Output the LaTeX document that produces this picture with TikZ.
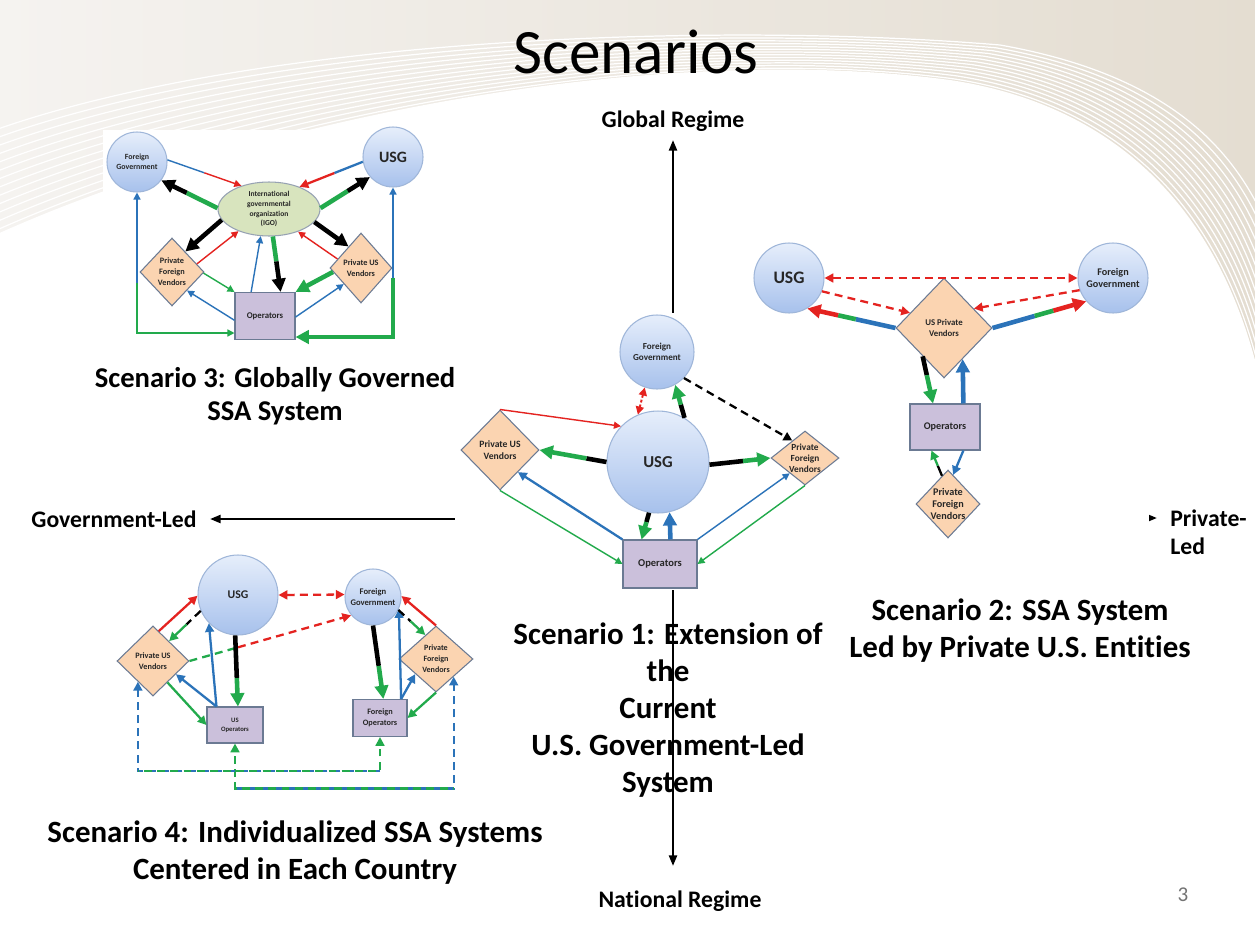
\documentclass[tikz,border=0pt]{standalone}
\usepackage{fontspec}
\setmainfont{Carlito}[Ligatures=NoCommon]
\usetikzlibrary{arrows.meta,positioning,shapes.geometric,calc}

\definecolor{ared}{HTML}{E42320}
\definecolor{agreen}{HTML}{22AA4C}
\definecolor{ablue}{HTML}{2B73B9}
\definecolor{circA}{HTML}{E6EEFB}
\definecolor{circB}{HTML}{A7C1EC}
\definecolor{circline}{HTML}{9FB6D9}
\definecolor{peach}{HTML}{FBD4B1}
\definecolor{lilac}{HTML}{CBC0DB}
\definecolor{igogreen}{HTML}{D8E4BE}
\definecolor{edge}{HTML}{6B7A93}
\definecolor{bgL}{HTML}{F5F3F0}
\definecolor{bgR}{HTML}{E4DDD1}

\tikzset{
	x=0.02cm, y=-0.02cm,
	>={Triangle[length=2.4pt 2, width=2.4pt 2]},
	gov/.style={circle, draw=circline, line width=0.6pt, top color=circA, bottom color=circB, inner sep=0pt},
	vend/.style={diamond, draw=edge, line width=0.6pt, fill=peach, inner sep=0pt},
	ops/.style={rectangle, draw=edge, line width=0.6pt, fill=lilac, inner sep=0pt},
	org/.style={ellipse, draw=edge!70, line width=0.6pt, fill=igogreen, inner sep=0pt},
	lab/.style 2 args={font=\fontsize{#1}{#2}\selectfont\bfseries, align=center, text=black!85, inner sep=0pt},
	slim/.style={line width=0.8pt},
	medw/.style={line width=1.3pt},
	fat/.style={line width=2.6pt},
	dsh/.style={dash pattern=on 4.5pt off 3pt},
	caption/.style={font=\fontsize{17.6}{21}\selectfont\bfseries, align=center, inner sep=0pt},
	axlab/.style={font=\fontsize{13.5}{16}\selectfont\bfseries, inner sep=0pt},
	axis/.style={line width=1.3pt, -{Triangle[length=6pt,width=4.5pt]}},
}

% arrow in two colours: first style, second style, from, to, split
\newcommand\twotone[5]{%
	\path (#3) -- (#4) coordinate[pos=#5] (split);
	\draw[#1] (#3) -- (split);
	\draw[#2,->] (split) -- (#4);}
% blue-green-red arrow
\newcommand\threetone[2]{%
	\path (#1) -- (#2) coordinate[pos=0.45] (sa) coordinate[pos=0.65] (sb);
	\draw[fat,ablue] (#1) -- (sa);
	\draw[fat,agreen] (sa) -- (sb);
	\draw[fat,ared,->] (sb) -- (#2);}

\begin{document}
\begin{tikzpicture}
	\useasboundingbox (0,0) rectangle (1255,930);

	% slide background
	\fill[left color=bgL, right color=bgR] (0,0) rectangle (1255,400);
	\fill[white] (-5,235) .. controls (250,120) and (650,40) .. (950,80) .. controls (1150,110) and (1230,250) .. (1260,380) -- (1260,935) -- (-5,935) -- cycle;
	\foreach \t in {0,0.08,...,1.0}
		\draw[white, line width=0.7pt] ($(-5,130)!\t!(-5,235)$) .. controls ($(250,40)!\t!(250,120)$) and ($(700,20)!\t!(650,40)$) .. ($(1000,45)!\t!(950,80)$) .. controls ($(1170,75)!\t!(1150,110)$) and ($(1230,150)!\t!(1230,250)$) .. ($(1260,210)!\t!(1260,380)$);
	\fill[white] (103,130) rectangle (436,345);

	\node[font=\fontsize{36}{40}\selectfont] (title) at (636,52) {Scenarios};
	\node[font=\fontsize{12}{14}\selectfont, text=black!55] (pnum) at (1183,895) {3};

	% captions
	\node[caption, font=\fontsize{16.3}{19}\selectfont\bfseries] (cap3) at (275,396) {Scenario 3: Globally Governed\\SSA System};
	\node[caption] (cap1) at (668,710) {Scenario 1: Extension of\\the\\Current\\U.S. Government-Led\\System};
	\node[caption] (cap2) at (1020,631) {Scenario 2: SSA System\\Led by Private U.S. Entities};
	\node[caption] (cap4) at (295,853) {Scenario 4: Individualized SSA Systems\\Centered in Each Country};

	% axes
	\coordinate (orig) at (673,519);
	\coordinate (ntip) at (673,140);
	\coordinate (stip) at (673,866);
	\coordinate (wtip) at (210,519);
	\coordinate (etip) at (1157,518);
	\draw[axis] (orig) -- (ntip);
	\draw[axis] (orig) -- (stip);
	\draw[axis] (orig) -- (wtip);
	\draw[axis] (orig) -- (etip);
	\node[axlab, above=0.17cm of ntip] (glob) {Global Regime};
	\node[axlab, below=0.5cm of stip, xshift=0.14cm] (natl) {National Regime};
	\node[axlab, left=0.26cm of wtip] (govled) {Government-Led};
	\node[axlab, right=0.26cm of etip, yshift=-0.28cm, align=left] (privled) {Private-\\Led};

	\fill[white] (455,313) rectangle (845,590);
	\fill[white] (845,235) rectangle (1149,542);

	% Scenario 3
	\node[gov, minimum size=1.2cm, label={[lab={4.5}{5.6}]center:Foreign\\Government}] (fg3) at (137,162) {};
	\node[gov, minimum size=1.2cm, label={[lab={9}{10}]center:USG}] (usg3) at (393,157) {};
	\node[org, minimum width=2.04cm, minimum height=1.08cm, label={[lab={4.3}{5.6}]center:International\\governmental\\organization\\(IGO)}] (igo3) at (269,209) {};
	\node[vend, minimum width=1.28cm, minimum height=1.36cm, label={[lab={4.7}{6.2}]center:Private\\Foreign\\Vendors}] (pfv3) at (172,272) {};
	\node[vend, minimum width=1.24cm, minimum height=1.4cm, label={[lab={4.7}{6.2}]center:Private US\\Vendors}] (pusv3) at (361,268) {};
	\node[ops, minimum width=1.2cm, minimum height=0.94cm, label={[lab={5}{6}]center:Operators}] (op3) at (265,316) {};

	\twotone{slim,ablue}{slim,ared}{fg3.4}{igo3.140}{0.5}
	\twotone{medw,ablue}{medw,ared}{usg3.189}{igo3.36}{0.45}
	\twotone{fat,agreen}{fat,black}{igo3.179}{fg3.323}{0.55}
	\twotone{fat,agreen}{fat,black}{igo3.1}{usg3.221}{0.55}
	\draw[fat,->] (igo3.193) -- (pfv3.57);
	\draw[slim,ared,->] (pfv3.18) -- (igo3.216);
	\draw[fat,->] (igo3.344) -- (pusv3.120);
	\draw[slim,ared,->] (pusv3.159) -- (igo3.322);
	\draw[slim,ablue,->] (op3.120) -- (igo3.253);
	\twotone{fat,agreen}{fat,black}{igo3.278}{op3.57}{0.45}
	\draw[slim,agreen,->] (pfv3.358) -- (op3.north west);
	\draw[slim,ablue,->] (op3.188) -- (pfv3.309);
	\draw[fat,agreen,->] (pusv3.188) -- (op3.north east);
	\draw[slim,ablue,->] (op3.358) -- (pusv3.223);
	\coordinate (k3l) at ($(fg3.south)+(0,90)$);
	\coordinate (k3r) at ($(usg3.south)+(0,90)$);
	\draw[slim,ablue,->] (k3l) -- (fg3.south);
	\draw[slim,agreen,->] (k3l) |- ($(op3.west)+(0,17)$);
	\draw[slim,ablue,->] (k3r) -- (usg3.south);
	\draw[fat,agreen,->] (k3r) |- ($(op3.east)+(0,21)$);

	% Scenario 1
	\node[gov, minimum size=1.48cm, label={[lab={5.2}{6.2}]center:Foreign\\Government}] (fg1) at (657,352) {};
	\node[gov, minimum size=2.04cm, label={[lab={9.5}{11}]center:USG}] (usg1) at (658,462) {};
	\node[vend, minimum width=1.56cm, minimum height=1.6cm, label={[lab={5.5}{6.8}]center:Private US\\Vendors}] (pusv1) at (500,450) {};
	\node[vend, minimum width=1.36cm, minimum height=1.08cm, label={[lab={5.3}{6.3}]center:Private\\Foreign\\Vendors}] (pfv1) at (805,458) {};
	\node[ops, minimum width=1.48cm, minimum height=0.96cm, label={[lab={6}{7}]center:Operators}] (op1) at (660,564) {};

	\draw[line width=1.1pt,ared,dash pattern=on 1.6pt off 1.2pt,<->] (usg1.113) -- (fg1.251);
	\twotone{fat,black}{fat,agreen}{usg1.59}{fg1.299}{0.4}
	\draw[medw,dsh,->] (fg1.316) -- (pfv1.126);
	\draw[slim,ared,->] (pusv1.north) -- (usg1.136);
	\twotone{fat,black}{fat,agreen}{usg1.west}{pusv1.east}{0.3}
	\twotone{fat,black}{fat,agreen}{usg1.357}{pfv1.west}{0.55}
	\draw[slim,agreen,->] (pusv1.south) -- (op1.west);
	\draw[medw,ablue,->] (op1.north west) -- (pusv1.309);
	\draw[slim,ablue,->] (op1.north east) -- (pfv1.225);
	\draw[slim,agreen,->] (pfv1.south) -- (op1.east);
	\twotone{fat,black}{fat,agreen}{usg1.260}{op1.127}{0.35}
	\draw[fat,ablue,->] (op1.67) -- (usg1.283);

	% Scenario 2
	\node[gov, minimum size=1.4cm, label={[lab={10}{11}]center:USG}] (usg2) at (789,278) {};
	\node[gov, minimum size=1.4cm, label={[lab={5.8}{7}]center:Foreign\\Government}] (fg2) at (1113,278) {};
	\node[vend, minimum width=1.92cm, minimum height=2cm, label={[lab={5}{6.5}]center:US Private\\Vendors}] (uspv2) at (944,328) {};
	\node[ops, minimum width=1.4cm, minimum height=0.92cm, label={[lab={5.8}{7}]center:Operators}] (op2) at (945,427) {};
	\node[vend, minimum width=1.28cm, minimum height=1.36cm, label={[lab={5.8}{7}]center:Private\\Foreign\\Vendors}] (pfv2) at (948,504) {};

	\draw[medw,ared,dsh,<->] (usg2.east) -- (fg2.west);
	\draw[medw,ared,dsh,->] (usg2.338) -- (uspv2.156);
	\draw[medw,ared,dsh,->] (fg2.200) -- (uspv2.33);
	\threetone{uspv2.west}{usg2.301}
	\threetone{uspv2.east}{fg2.221}
	\twotone{fat,black}{fat,agreen}{uspv2.233}{op2.117}{0.4}
	\draw[fat,ablue,->] (op2.52) -- (uspv2.301);
	\twotone{medw,black}{medw,agreen}{pfv2.102}{op2.240}{0.4}
	\draw[medw,ablue,->] (op2.308) -- (pfv2.80);

	% Scenario 4
	\node[gov, minimum size=1.6cm, label={[lab={6.7}{8}]center:USG}] (usg4) at (238,595) {};
	\node[gov, minimum size=1.12cm, label={[lab={4.9}{5.8}]center:Foreign\\Government}] (fg4) at (373,597) {};
	\node[vend, minimum width=1.44cm, minimum height=1.4cm, label={[lab={4.7}{6}]center:Private US\\Vendors}] (pusv4) at (153,661) {};
	\node[vend, minimum width=1.48cm, minimum height=1.32cm, label={[lab={4.6}{6.2}]center:Private\\Foreign\\Vendors}] (pfv4) at (436,659) {};
	\node[ops, minimum width=1.12cm, minimum height=0.72cm, label={[lab={3.8}{5}]center:US\\Operators}] (uop4) at (235,725) {};
	\node[ops, minimum width=1.08cm, minimum height=0.74cm, label={[lab={4.7}{6}]center:Foreign\\Operators}] (fop4) at (380,718) {};

	\draw[medw,ared,dsh,<->] (usg4.east) -- (fg4.175);
	\draw[medw,ared,->] (pusv4.79) -- (usg4.181);
	\twotone{medw,black,dsh}{medw,agreen}{usg4.203}{pusv4.51}{0.45}
	\twotone{medw,agreen,dsh}{medw,ared,dsh}{pusv4.east}{fg4.220}{0.3}
	\draw[medw,ablue,->] (uop4.135) -- (usg4.224);
	\twotone{fat,black}{fat,agreen}{usg4.266}{uop4.81}{0.6}
	\draw[medw,ablue,->] (uop4.135) -- (pusv4.330);
	\draw[medw,agreen,->] (pusv4.304) -- (uop4.west);
	\twotone{fat,black}{fat,agreen}{fg4.south}{fop4.80}{0.55}
	\draw[medw,ablue,->] (fop4.42) -- (fg4.335);
	\draw[medw,ablue,->] (fop4.42) -- (pfv4.216);
	\draw[medw,agreen,->] (pfv4.south) -- (fop4.east);
	\draw[medw,ared,->] (pfv4.north) -- (fg4.2);
	\twotone{medw,black,dsh}{medw,agreen}{fg4.333}{pfv4.114}{0.45}
	\coordinate (lo4a) at ($(uop4.south)+(0,45)$);
	\coordinate (lo4b) at (lo4a -| pfv4.315);
	\draw[medw,ablue,dsh,->] (lo4a) -| (pfv4.315);
	\draw[medw,agreen,dsh,dash phase=4pt,->] (lo4b) -| (uop4.south);
	\coordinate (up4a) at ($(pusv4.234)+(0,89)$);
	\coordinate (up4b) at (up4a -| fop4.south);
	\draw[medw,ablue,dsh,->] (up4b) -| (pusv4.234);
	\draw[medw,agreen,dsh,dash phase=4pt,->] (up4a) -| (fop4.south);
\end{tikzpicture}
\end{document}
